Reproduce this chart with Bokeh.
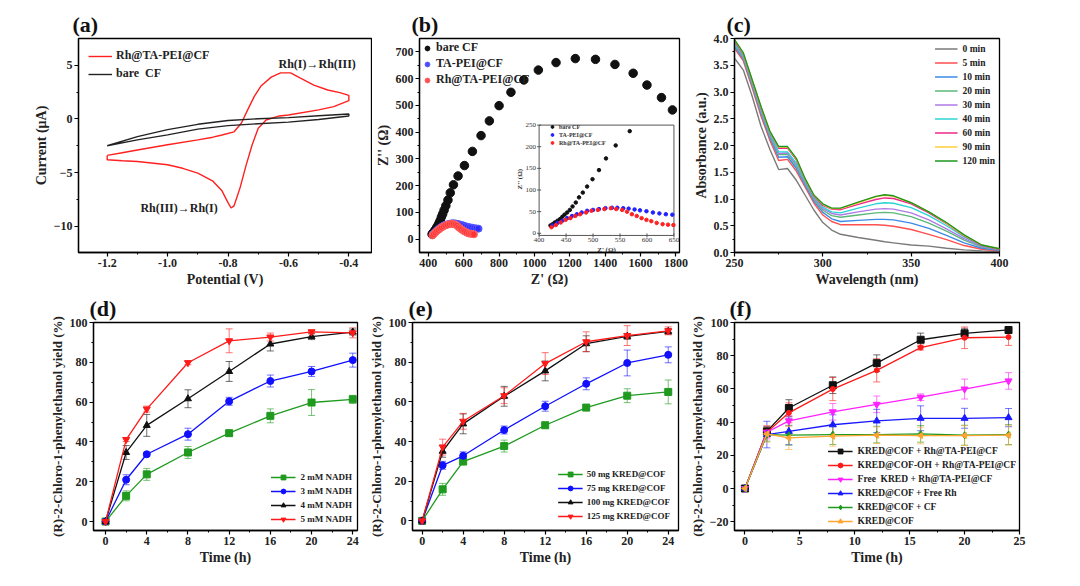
import math
from bokeh.plotting import figure
from bokeh.models import (Range1d, FixedTicker, Legend, LegendItem, Label, Whisker,
                          TeeHead, ColumnDataSource, PrintfTickFormatter)
from bokeh.layouts import row, column
from bokeh.embed import file_html
from bokeh.resources import INLINE
from bokeh.core.properties import value

FONT = "Liberation Serif"

# ---------------- (a) cyclic voltammetry ----------------
cv_rh_x = [-1.2, -1.15, -1.1, -1.0, -0.9, -0.85, -0.82, -0.78, -0.756, -0.735, -0.713, -0.69, -0.657,
           -0.626, -0.593, -0.56, -0.516, -0.47, -0.43, -0.4, -0.4, -0.45, -0.5, -0.6, -0.63, -0.674,
           -0.7, -0.72, -0.74, -0.76, -0.78, -0.79, -0.8, -0.82, -0.85, -0.9, -0.95, -1.0, -1.1, -1.15,
           -1.2, -1.2]
cv_rh_y = [-3.4, -3.15, -2.9, -2.4, -1.95, -1.7, -1.5, -1.2, -0.4, 0.85, 2.1, 3.1, 3.9,
           4.3, 4.3, 3.8, 3.15, 2.7, 2.45, 2.2, 1.7, 1.15, 0.85, 0.37, 0.28, -0.1,
           -0.87, -2.4, -4.3, -6.4, -8.1, -8.3, -7.8, -6.7, -5.8, -5.05, -4.6, -4.27, -3.96, -3.9,
           -3.8, -3.4]
cv_bare_x = [-1.2, -1.1, -1.0, -0.9, -0.8, -0.7, -0.6, -0.5, -0.4, -0.4, -0.5, -0.6, -0.7, -0.8,
             -0.9, -1.0, -1.1, -1.2]
cv_bare_y = [-2.5, -1.65, -1.0, -0.5, -0.15, 0.02, 0.12, 0.3, 0.46, 0.28, -0.05, -0.3, -0.45, -0.62,
             -0.95, -1.49, -1.95, -2.5]

# ---------------- (b) Nyquist plots ----------------
bare_zre = [421, 425, 429, 434, 439, 443, 447, 452, 457, 462, 468, 474, 481, 489, 499, 511, 524, 542,
            568, 604, 649, 698, 745, 800, 867, 940, 1022, 1122, 1231, 1345, 1455, 1558, 1636, 1718, 1780]
bare_zim = [18, 21, 25, 29, 33, 38, 43, 48, 54, 62, 71, 83, 94, 108, 125, 146, 173, 203,
            236, 275, 328, 387, 442, 499, 549, 595, 632, 660, 675, 672, 653, 620, 576, 529, 483]
ta_zre = [425, 434, 443, 452, 461, 470, 479, 489, 500, 511, 523, 535, 545, 556, 566, 577, 587, 599,
          611, 623, 635, 647, 660, 672, 684]
ta_zim = [18, 24, 29, 35, 40, 44, 48, 52, 54, 56, 58, 59, 59, 58, 57, 55, 53, 51, 48, 46, 44, 43,
          41, 40, 39]
rh_zre = [423, 431, 440, 449, 458, 467, 476, 487, 497, 509, 521, 533, 543, 554, 563, 572, 581, 590,
          599, 608, 618, 629, 639, 649, 658]
rh_zim = [14, 19, 25, 31, 35, 40, 44, 48, 52, 54, 56, 58, 56, 54, 50, 44, 40, 35, 31, 28, 24, 21,
          20, 19, 18]
inset_xticks = [400, 450, 500, 550, 600, 650]
inset_yticks = [0, 50, 100, 150, 200, 250]

# ---------------- (c) UV-vis spectra ----------------
wavelength = [250, 255, 260, 265, 270, 275, 280, 285, 290, 295, 300, 305, 310, 320, 330, 335, 340,
              350, 360, 370, 380, 390, 400]
abs_0 = [3.63, 3.41, 2.92, 2.36, 1.93, 1.55, 1.57, 1.35, 1.07, 0.79, 0.56, 0.42, 0.34, 0.28, 0.23,
         0.20, 0.18, 0.14, 0.12, 0.08, 0.05, 0.03, 0.02]
abs_5 = [3.82, 3.58, 3.08, 2.55, 2.10, 1.72, 1.74, 1.52, 1.22, 0.92, 0.70, 0.58, 0.52, 0.52, 0.52,
         0.51, 0.49, 0.43, 0.34, 0.24, 0.13, 0.06, 0.03]
abs_10 = [3.85, 3.62, 3.12, 2.60, 2.15, 1.78, 1.79, 1.57, 1.26, 0.96, 0.75, 0.63, 0.58, 0.60, 0.62,
          0.62, 0.61, 0.55, 0.45, 0.32, 0.18, 0.08, 0.04]
abs_20 = [3.88, 3.65, 3.15, 2.63, 2.18, 1.83, 1.83, 1.61, 1.29, 0.99, 0.79, 0.69, 0.66, 0.70, 0.74,
          0.75, 0.74, 0.67, 0.55, 0.40, 0.23, 0.10, 0.05]
abs_30 = [3.90, 3.67, 3.17, 2.65, 2.20, 1.85, 1.86, 1.64, 1.31, 1.01, 0.82, 0.73, 0.70, 0.76, 0.81,
          0.82, 0.81, 0.74, 0.61, 0.44, 0.26, 0.11, 0.05]
abs_40 = [3.92, 3.69, 3.19, 2.68, 2.22, 1.88, 1.88, 1.67, 1.33, 1.03, 0.85, 0.76, 0.74, 0.83, 0.91,
          0.93, 0.92, 0.84, 0.69, 0.50, 0.29, 0.12, 0.06]
abs_60 = [3.95, 3.71, 3.21, 2.71, 2.25, 1.95, 1.95, 1.73, 1.36, 1.05, 0.88, 0.81, 0.80, 0.90, 0.99,
          1.02, 1.01, 0.91, 0.74, 0.54, 0.31, 0.13, 0.06]
abs_90 = [3.97, 3.72, 3.22, 2.72, 2.26, 1.97, 1.97, 1.75, 1.37, 1.06, 0.90, 0.82, 0.82, 0.93, 1.04,
          1.07, 1.05, 0.93, 0.76, 0.55, 0.32, 0.14, 0.07]
abs_120 = [3.98, 3.73, 3.23, 2.73, 2.27, 1.98, 1.98, 1.76, 1.38, 1.07, 0.91, 0.83, 0.83, 0.94, 1.05,
           1.08, 1.06, 0.93, 0.76, 0.56, 0.33, 0.14, 0.07]
uv_labels = ["0 min", "5 min", "10 min", "20 min", "30 min", "40 min", "60 min", "90 min", "120 min"]
uv_colors = ["#7a7a7a", "#ff4f4f", "#3d8ae6", "#5cb87a", "#b07ae6", "#2cd4d4", "#f0288c", "#ffcf3a", "#1e961e"]

# ---------------- (d) NADH ----------------
time_h = [0, 2, 4, 8, 12, 16, 20, 24]
d_2mM = [0, 12.9, 23.7, 34.7, 44.4, 53.1, 59.8, 61.4]
d_2mM_err = [0, 2.5, 3, 3, 1, 3.5, 6.5, 2]
d_3mM = [0, 21.0, 33.8, 43.9, 60.4, 70.6, 75.4, 81.1]
d_3mM_err = [0, 2.5, 1, 3, 2, 3, 2.5, 3.5]
d_4mM = [0, 34.7, 48.3, 61.7, 75.4, 89.2, 92.9, 95.2]
d_4mM_err = [0, 3.5, 5.5, 4.5, 5, 3.5, 1.5, 1.5]
d_5mM = [0, 41.2, 56.5, 79.8, 90.8, 92.7, 95.3, 94.8]
d_5mM_err = [0, 1, 1.5, 1, 6, 2, 1, 2.5]

# ---------------- (e) KRED@COF amount ----------------
e_50 = [0, 15.9, 29.9, 37.7, 48.2, 57.1, 63.1, 65.0]
e_50_err = [0, 3, 1, 3, 1.5, 1.5, 3.5, 6]
e_75 = [0, 28.0, 32.8, 45.8, 57.8, 69.1, 79.6, 83.7]
e_75_err = [0, 2, 2, 2, 2.5, 3, 6.5, 4]
e_100 = [0, 35.1, 48.9, 62.8, 75.6, 89.3, 93.0, 95.5]
e_100_err = [0, 3, 5, 5, 5, 4, 1.5, 1.5]
e_125 = [0, 37.2, 50.2, 63.1, 79.3, 90.3, 93.4, 95.8]
e_125_err = [0, 4, 4, 4, 5.5, 5, 5, 2]

# ---------------- (f) controls ----------------
f_rh = [0, 34.4, 48.5, 62.2, 75.5, 89.6, 93.5, 95.5]
f_rh_err = [0, 3, 5, 5, 5, 4, 3, 2]
f_oh = [0, 33.9, 45.6, 59.9, 71.2, 84.9, 90.8, 91.2]
f_oh_err = [0, 3, 6, 7, 7, 1.5, 6.5, 5]
f_free = [0, 33.9, 40.7, 46.2, 50.7, 55.0, 59.9, 64.8]
f_free_err = [0, 4, 3, 5, 5, 2, 6, 5]
f_freerh = [0, 32.5, 34.4, 38.4, 40.7, 42.3, 42.3, 42.7]
f_freerh_err = [0, 8, 8, 6, 7, 7.5, 6, 5.5]
f_cf = [0, 32.5, 32.1, 32.5, 32.5, 32.9, 32.1, 32.5]
f_cf_err = [0, 4, 6, 6, 5, 5, 6, 6]
f_cof = [0, 32.9, 30.5, 31.5, 32.1, 31.9, 31.9, 32.1]
f_cof_err = [0, 5, 7, 6, 5, 5, 6, 6]

YIELD_LABEL = "(R)-2-Chloro-1-phenylethanol yield (%)"


def mk(w, h, l, r, t, b, xr, yr, letter, loff):
    p = figure(width=w, height=h, x_range=Range1d(*xr), y_range=Range1d(*yr),
               output_backend="svg", toolbar_location=None,
               min_border_left=l, min_border_right=r, min_border_top=t, min_border_bottom=b)
    p.grid.visible = False
    p.outline_line_color = "black"
    p.outline_line_width = 1.3
    p.outline_line_alpha = 1.0
    p.background_fill_color = "white"
    p.border_fill_color = "white"
    p.title.text = letter
    p.title.align = "left"
    p.title.offset = loff
    p.title.standoff = 3
    p.title.text_font = FONT
    p.title.text_font_style = "bold"
    p.title.text_font_size = "22px"
    p.title.text_color = "#111111"
    return p


def style(p, xt, xm, yt, ym, xlabel, ylabel, tick_fs="12px", lab_fs="14px", ylab_fs=None):
    p.xaxis.ticker = FixedTicker(ticks=xt, minor_ticks=xm)
    p.yaxis.ticker = FixedTicker(ticks=yt, minor_ticks=ym)
    p.xaxis.axis_label = xlabel
    p.yaxis.axis_label = ylabel
    for ax in p.axis:
        ax.axis_line_color = "black"
        ax.axis_line_width = 1.3
        ax.major_tick_out = 4
        ax.major_tick_in = 0
        ax.minor_tick_out = 2
        ax.minor_tick_in = 0
        ax.major_tick_line_width = 1.2
        ax.minor_tick_line_width = 1
        ax.major_label_text_font = FONT
        ax.major_label_text_font_style = "bold"
        ax.major_label_text_font_size = tick_fs
        ax.major_label_text_color = "#222222"
        ax.axis_label_text_font = FONT
        ax.axis_label_text_font_style = "bold"
        ax.axis_label_text_font_size = lab_fs
        ax.axis_label_text_color = "#222222"
        ax.major_label_standoff = 2
        ax.axis_label_standoff = 2
    if ylab_fs:
        p.yaxis.axis_label_text_font_size = ylab_fs


def leg_style(leg, loc, fs, gw, lh, spacing, margin, padding, standoff=5):
    leg.location = loc
    leg.label_text_font = FONT
    leg.label_text_font_style = "bold"
    leg.label_text_font_size = fs
    leg.label_text_color = "#222222"
    leg.glyph_width = gw
    leg.glyph_height = lh
    leg.label_height = lh
    leg.spacing = spacing
    leg.margin = margin
    leg.padding = padding
    leg.label_standoff = standoff
    leg.border_line_alpha = 0
    leg.background_fill_alpha = 0


def series(p, x, y, err, color, marker, label, size=7, angle=0.0):
    src = ColumnDataSource(dict(x=x, y=y, lo=[a - b for a, b in zip(y, err)],
                                hi=[a + b for a, b in zip(y, err)]))
    p.add_layout(Whisker(source=src, base="x", lower="lo", upper="hi", line_color=color,
                         line_alpha=0.6, line_width=1,
                         upper_head=TeeHead(size=7, line_color=color, line_alpha=0.6),
                         lower_head=TeeHead(size=7, line_color=color, line_alpha=0.6)))
    p.line("x", "y", source=src, color=color, line_width=1.3, legend_label=label)
    p.scatter("x", "y", source=src, marker=marker, size=size, color=color, angle=angle,
              legend_label=label)


# ================= (a) =================
pa = mk(372, 289, 78, 1, 37, 37, (-1.295, -0.325), (-12.45, 7.5), "(a)", -6)
style(pa, [-1.2, -1.0, -0.8, -0.6, -0.4], [-1.1, -0.9, -0.7, -0.5],
      [-10, -5, 0, 5], [-7.5, -2.5, 2.5], "Potential (V)", "Current (\u03bcA)")
pa.xaxis.formatter = PrintfTickFormatter(format="%.1f")
pa.line(cv_rh_x, cv_rh_y, color="#ff2020", line_width=1.4, legend_label="Rh@TA-PEI@CF")
pa.line(cv_bare_x, cv_bare_y, color="#222222", line_width=1.4, legend_label="bare  CF")
leg_style(pa.legend[0], "top_left", "12px", 24, 12, 3, 8, 2, 4)
pa.add_layout(Label(x=-0.633, y=5.1, text="Rh(I)\u2192Rh(III)", text_font=FONT,
                    text_font_style="bold", text_font_size="12px", text_baseline="middle",
                    text_color="#222222"))
pa.add_layout(Label(x=-1.09, y=-8.27, text="Rh(III)\u2192Rh(I)", text_font=FONT,
                    text_font_style="bold", text_font_size="12px", text_baseline="middle",
                    text_color="#222222"))

# ================= (b) =================
pb = mk(318, 289, 39, 11, 37, 37, (350, 1820), (-50, 750), "(b)", -8)
style(pb, [400, 600, 800, 1000, 1200, 1400, 1600, 1800], [500, 700, 900, 1100, 1300, 1500, 1700],
      [0, 100, 200, 300, 400, 500, 600, 700], [50, 150, 250, 350, 450, 550, 650],
      "Z' (\u03a9)", "Z'' (\u03a9)")
pb.scatter(bare_zre, bare_zim, size=8.5, color="#111111", legend_label="bare CF")
pb.scatter(ta_zre, ta_zim, size=7, fill_color="#2a2aff", line_color="#5a5aff", fill_alpha=0.85,
           legend_label="TA-PEI@CF")
pb.scatter(rh_zre, rh_zim, size=7, fill_color="#ff3030", line_color="#ff6060", fill_alpha=0.85,
           legend_label="Rh@TA-PEI@CF")
leg_b = pb.legend[0]
leg_style(leg_b, "top_left", "12px", 12, 12, 1, 0, 2, 3)

# inset via extra ranges mapped onto the inset rectangle
pb.extra_x_ranges = {"ix": Range1d(178.2, 660.3)}
pb.extra_y_ranges = {"iy": Range1d(-44.4, 450.1)}
pb.quad(left=[400], right=[650], bottom=[-5], top=[250], fill_color="white",
        line_color="#555555", line_width=1, x_range_name="ix", y_range_name="iy")


def in_box(xs, ys):
    pts = [(a, b) for a, b in zip(xs, ys) if a <= 650 and b <= 250]
    return [a for a, _ in pts], [b for _, b in pts]


bx, by = in_box(bare_zre, bare_zim)
tx, ty = in_box(ta_zre, ta_zim)
rx, ry = in_box(rh_zre, rh_zim)
r_ib = pb.scatter(bx, by, size=3.5, color="#111111", x_range_name="ix", y_range_name="iy")
r_it = pb.scatter(tx, ty, size=3.5, color="#2020ff", x_range_name="ix", y_range_name="iy")
r_ir = pb.scatter(rx, ry, size=3.5, color="#ff2020", x_range_name="ix", y_range_name="iy")
pb.scatter(inset_xticks, [-5] * len(inset_xticks), marker="dash", angle=math.pi / 2, size=4,
           color="#555555", x_range_name="ix", y_range_name="iy")
pb.scatter([400] * len(inset_yticks), inset_yticks, marker="dash", size=4,
           color="#555555", x_range_name="ix", y_range_name="iy")
pb.text(inset_xticks, [-5] * len(inset_xticks), text=[str(v) for v in inset_xticks],
        x_range_name="ix", y_range_name="iy", text_font=value(FONT), text_font_size="7px",
        text_align="center", text_baseline="top", y_offset=3, text_color="#333333")
pb.text([400] * len(inset_yticks), inset_yticks, text=[str(v) for v in inset_yticks],
        x_range_name="ix", y_range_name="iy", text_font=value(FONT), text_font_size="7px",
        text_align="right", text_baseline="middle", x_offset=-3, text_color="#333333")
pb.text([525], [-5], text=["Z' (\u03a9)"], x_range_name="ix", y_range_name="iy",
        text_font=value(FONT), text_font_size="7px", text_font_style="bold",
        text_align="center", text_baseline="top", y_offset=11, text_color="#333333")
pb.text([400], [125], text=["Z'' (\u03a9)"], x_range_name="ix", y_range_name="iy",
        text_font=value(FONT), text_font_size="7px", text_font_style="bold", angle=math.pi / 2,
        text_align="center", text_baseline="bottom", x_offset=-15, text_color="#333333")
leg_in = Legend(items=[LegendItem(label="bare CF", renderers=[r_ib]),
                       LegendItem(label="TA-PEI@CF", renderers=[r_it]),
                       LegendItem(label="Rh@TA-PEI@CF", renderers=[r_ir])],
                location=(128, 105))
leg_in.label_text_font = FONT
leg_in.label_text_font_style = "bold"
leg_in.label_text_font_size = "6px"
leg_in.label_text_color = "#333333"
leg_in.glyph_width = 8
leg_in.glyph_height = 7
leg_in.label_height = 7
leg_in.spacing = 1
leg_in.padding = 1
leg_in.margin = 0
leg_in.label_standoff = 3
leg_in.border_line_alpha = 0
leg_in.background_fill_alpha = 0
pb.add_layout(leg_in)

# ================= (c) =================
pc = mk(390, 289, 41, 81, 38, 35, (250, 400), (0, 4.0), "(c)", -8)
style(pc, [250, 300, 350, 400], [275, 325, 375],
      [0, 0.5, 1.0, 1.5, 2.0, 2.5, 3.0, 3.5, 4.0],
      [0.25, 0.75, 1.25, 1.75, 2.25, 2.75, 3.25, 3.75],
      "Wavelength (nm)", "Absorbance (a.u.)")
pc.yaxis.formatter = PrintfTickFormatter(format="%.1f")
uv_series = [abs_0, abs_5, abs_10, abs_20, abs_30, abs_40, abs_60, abs_90, abs_120]
for ys, lab, col in zip(uv_series, uv_labels, uv_colors):
    pc.line(wavelength, ys, color=col, line_width=1.4, legend_label=lab)
leg_style(pc.legend[0], "top_right", "9.5px", 23, 13, 1, 1, 3, 5)

# ================= (d) =================
pd_ = mk(365, 297, 93, 8, 25, 56, (-1.17, 24.46), (-4.5, 100), "(d)", -4)
style(pd_, [0, 4, 8, 12, 16, 20, 24], [2, 6, 10, 14, 18, 22],
      [0, 20, 40, 60, 80, 100], [10, 30, 50, 70, 90], "Time (h)", YIELD_LABEL, ylab_fs="13px")
series(pd_, time_h, d_2mM, d_2mM_err, "#1f9a1f", "square", "2 mM NADH")
series(pd_, time_h, d_3mM, d_3mM_err, "#1010ff", "circle", "3 mM NADH")
series(pd_, time_h, d_4mM, d_4mM_err, "#111111", "triangle", "4 mM NADH")
series(pd_, time_h, d_5mM, d_5mM_err, "#ff1a1a", "inverted_triangle", "5 mM NADH")
leg_style(pd_.legend[0], "bottom_right", "9px", 25, 12, 2, 3, 2, 5)

# ================= (e) =================
pe = mk(321, 297, 46, 8, 30, 51, (-0.94, 25.0), (-4.85, 100), "(e)", -4)
style(pe, [0, 4, 8, 12, 16, 20, 24], [2, 6, 10, 14, 18, 22],
      [0, 20, 40, 60, 80, 100], [10, 30, 50, 70, 90], "Time (h)", YIELD_LABEL, ylab_fs="13px")
series(pe, time_h, e_50, e_50_err, "#1f9a1f", "square", "50 mg KRED@COF")
series(pe, time_h, e_75, e_75_err, "#1010ff", "circle", "75 mg KRED@COF")
series(pe, time_h, e_100, e_100_err, "#111111", "triangle", "100 mg KRED@COF")
series(pe, time_h, e_125, e_125_err, "#ff1a1a", "inverted_triangle", "125 mg KRED@COF")
leg_style(pe.legend[0], "bottom_right", "9px", 25, 12, 2, 5, 3, 4)

# ================= (f) =================
pf = mk(394, 297, 41, 61, 33, 51, (-0.95, 25.0), (-25.3, 100), "(f)", -5)
style(pf, [0, 5, 10, 15, 20, 25], [2.5, 7.5, 12.5, 17.5, 22.5],
      [-20, 0, 20, 40, 60, 80, 100], [-10, 10, 30, 50, 70, 90], "Time (h)", YIELD_LABEL,
      ylab_fs="13px")
series(pf, time_h, f_rh, f_rh_err, "#111111", "square", "KRED@COF + Rh@TA-PEI@CF")
series(pf, time_h, f_oh, f_oh_err, "#ff1a1a", "circle", "KRED@COF-OH + Rh@TA-PEI@CF", size=5)
series(pf, time_h, f_free, f_free_err, "#ff20ff", "inverted_triangle", "Free  KRED + Rh@TA-PEI@CF")
series(pf, time_h, f_freerh, f_freerh_err, "#1a1aff", "triangle", "KRED@COF + Free Rh")
series(pf, time_h, f_cf, f_cf_err, "#1f9a1f", "diamond", "KRED@COF + CF")
series(pf, time_h, f_cof, f_cof_err, "#ffa530", "triangle", "KRED@COF", size=6, angle=math.pi / 2)
leg_style(pf.legend[0], "bottom_right", "9.5px", 25, 12, 2, 1, 2, 5)

layout = column(row(pa, pb, pc), row(pd_, pe, pf))
open("out.html", "w").write(file_html(layout, INLINE))
